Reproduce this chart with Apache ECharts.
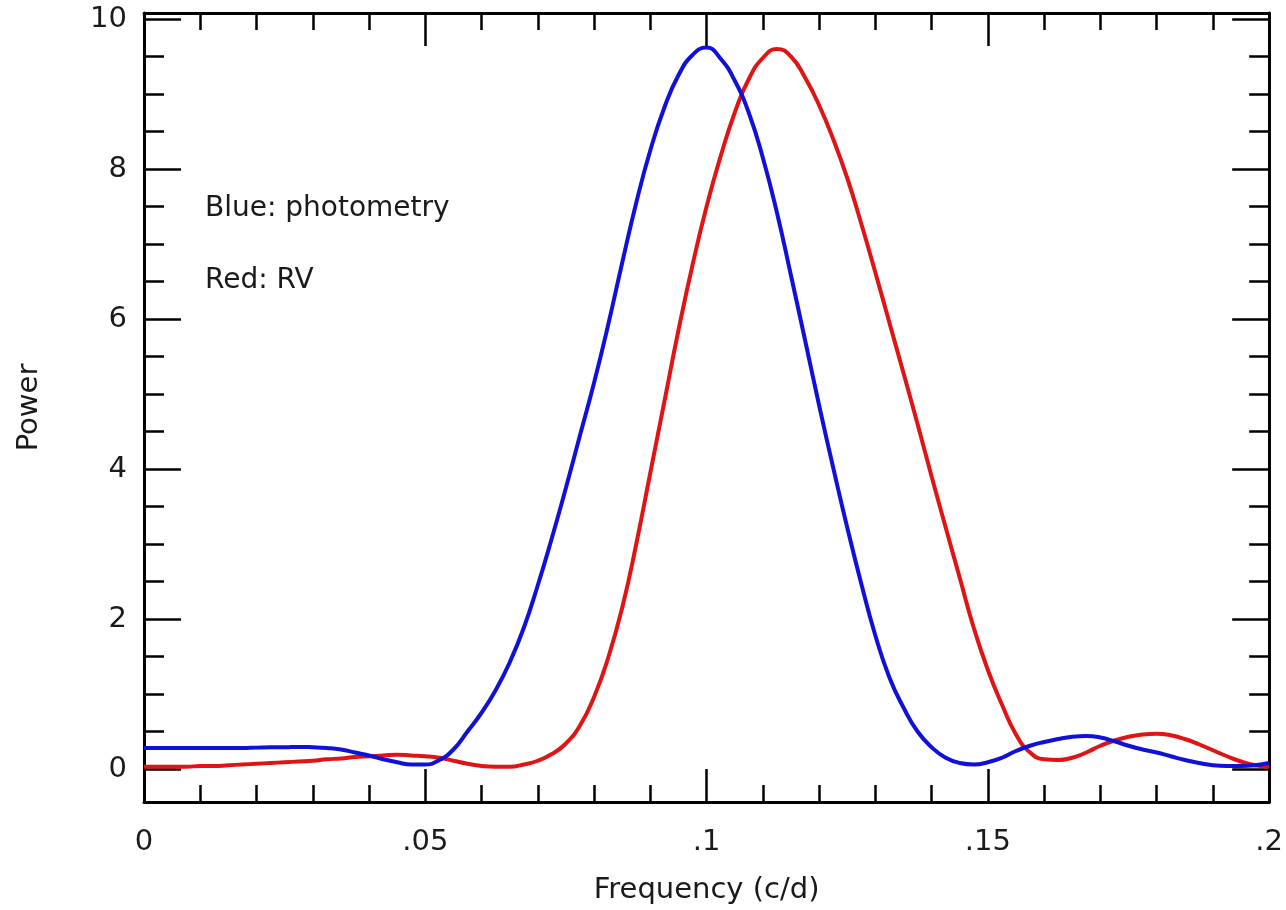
<!DOCTYPE html>
<html>
<head>
<meta charset="utf-8">
<script src="https://cdn.jsdelivr.net/npm/echarts@6/dist/echarts.min.js"></script>
<style>
html,body{margin:0;padding:0;background:#fff;}
#chart{width:1286px;height:910px;}
</style>
</head>
<body>
<div id="chart"></div>
<script>
// Frequency grid (c/d)
const freq = [
  0, 0.0025, 0.005, 0.0075, 0.01, 0.0125, 0.015, 0.0175, 0.02, 0.0225,
  0.025, 0.0275, 0.03, 0.0325, 0.035, 0.0375, 0.04, 0.0425, 0.045, 0.0475,
  0.05, 0.0525, 0.055, 0.0575, 0.06, 0.0625, 0.065, 0.0675, 0.07, 0.0725,
  0.075, 0.0775, 0.08, 0.0825, 0.085, 0.0875, 0.09, 0.0925, 0.095, 0.0975,
  0.1, 0.1025, 0.105, 0.1075, 0.11, 0.1125, 0.115, 0.1175, 0.12, 0.1225,
  0.125, 0.1275, 0.13, 0.1325, 0.135, 0.1375, 0.14, 0.1425, 0.145, 0.1475,
  0.15, 0.1525, 0.155, 0.1575, 0.16, 0.1625, 0.165, 0.1675, 0.17, 0.1725,
  0.175, 0.1775, 0.18, 0.1825, 0.185, 0.1875, 0.19, 0.1925, 0.195, 0.1975, 0.2
];
// Blue: photometry
const powerPhotometry = [
  0.28, 0.28, 0.28, 0.28, 0.28, 0.28, 0.28, 0.28, 0.285, 0.29,
  0.29, 0.295, 0.29, 0.28, 0.26, 0.22, 0.18, 0.13, 0.09, 0.06,
  0.06, 0.12, 0.26, 0.5, 0.75, 1.05, 1.42, 1.88, 2.45, 3.08,
  3.75, 4.45, 5.15, 5.92, 6.75, 7.55, 8.25, 8.82, 9.25, 9.52,
  9.62, 9.47, 9.18, 8.75, 8.15, 7.42, 6.58, 5.72, 4.85, 4.02,
  3.22, 2.47, 1.78, 1.22, 0.82, 0.5, 0.29, 0.15, 0.08, 0.06,
  0.09, 0.15, 0.24, 0.31, 0.36, 0.4, 0.43, 0.44, 0.42, 0.37,
  0.31, 0.26, 0.22, 0.17, 0.12, 0.08, 0.05, 0.04, 0.04, 0.05, 0.08
];
// Red: RV
const powerRV = [
  0.03, 0.03, 0.03, 0.03, 0.04, 0.04, 0.05, 0.06, 0.07, 0.08,
  0.09, 0.1, 0.11, 0.13, 0.14, 0.16, 0.17, 0.18, 0.19, 0.18,
  0.17, 0.15, 0.11, 0.07, 0.04, 0.03, 0.03, 0.06, 0.11, 0.2,
  0.34, 0.58, 0.96, 1.48, 2.15, 3.0, 3.95, 4.9, 5.85, 6.72,
  7.5, 8.17, 8.75, 9.2, 9.48, 9.6, 9.5, 9.22, 8.85, 8.4,
  7.88, 7.27, 6.62, 5.95, 5.28, 4.6, 3.9, 3.22, 2.55, 1.88,
  1.32, 0.86, 0.46, 0.22, 0.13, 0.12, 0.15, 0.22, 0.31, 0.38,
  0.43, 0.46, 0.47, 0.45, 0.4, 0.33, 0.25, 0.17, 0.1, 0.05, 0.03
];
// Axis ticks
const yMajorTicks = [0, 2, 4, 6, 8, 10];
const yMinorTicks = [0.5, 1, 1.5, 2.5, 3, 3.5, 4.5, 5, 5.5, 6.5, 7, 7.5, 8.5, 9, 9.5];
const xLabels = {0: '0', 0.05: '.05', 0.1: '.1', 0.15: '.15', 0.2: '.2'};

const FONT = '"DejaVu Sans", Verdana, sans-serif';
const FS = 29;
const NOTE_FS = 28;
const TXT = '#1a1a1a';
const lineStyle = {color: '#000', width: 3};
const tickStyle = {color: '#000', width: 2.5};

function pairs(ys) { return freq.map((f, i) => [f, ys[i]]); }

function yAx(pos, major, withLabel) {
  const ticks = major ? yMajorTicks : yMinorTicks;
  const ax = {
    type: 'value', position: pos, min: -0.44, max: 10.08,
    axisLine: {show: major, onZero: false, lineStyle: lineStyle},
    axisTick: {show: true, inside: true, length: major ? 37 : 20, lineStyle: tickStyle, customValues: ticks},
    axisLabel: withLabel
      ? {show: true, margin: 17, fontSize: FS, fontFamily: FONT, color: TXT, customValues: yMajorTicks}
      : {show: false},
    splitLine: {show: false}
  };
  if (withLabel) {
    ax.name = 'Power';
    ax.nameLocation = 'middle';
    ax.nameGap = 100;
    ax.nameRotate = 90;
    ax.nameTextStyle = {fontSize: FS, fontFamily: FONT, color: TXT};
  }
  return ax;
}

const chart = echarts.init(document.getElementById('chart'), null, {renderer: 'canvas'});
chart.setOption({
  backgroundColor: '#fff',
  animation: false,
  grid: {left: 144, right: 16, top: 13, bottom: 103, containLabel: false},
  graphic: [
    {type: 'text', left: 205, top: 195, style: {text: 'Blue: photometry', font: NOTE_FS + 'px ' + FONT, fill: TXT}},
    {type: 'text', left: 205, top: 267, style: {text: 'Red: RV', font: NOTE_FS + 'px ' + FONT, fill: TXT}}
  ],
  xAxis: [
    {
      type: 'value', position: 'bottom', min: 0, max: 0.2, interval: 0.05,
      name: 'Frequency (c/d)', nameLocation: 'middle', nameGap: 74,
      nameTextStyle: {fontSize: FS, fontFamily: FONT, color: TXT},
      axisLine: {show: true, onZero: false, lineStyle: lineStyle},
      axisTick: {show: true, inside: true, length: 33, lineStyle: tickStyle},
      minorTick: {show: true, splitNumber: 5, length: 17, lineStyle: tickStyle},
      axisLabel: {
        margin: 26, fontSize: FS, fontFamily: FONT, color: TXT,
        formatter: v => { const k = parseFloat(v.toFixed(3)); return xLabels[k] !== undefined ? xLabels[k] : ''; }
      },
      splitLine: {show: false}
    },
    {
      type: 'value', position: 'top', min: 0, max: 0.2, interval: 0.05,
      axisLine: {show: true, onZero: false, lineStyle: lineStyle},
      axisTick: {show: true, inside: true, length: 33, lineStyle: tickStyle},
      minorTick: {show: true, splitNumber: 5, length: 17, lineStyle: tickStyle},
      axisLabel: {show: false},
      splitLine: {show: false}
    }
  ],
  yAxis: [
    yAx('left', true, true),
    yAx('left', false, false),
    yAx('right', true, false),
    yAx('right', false, false)
  ],
  series: [
    {
      name: 'RV', type: 'line', xAxisIndex: 0, yAxisIndex: 0,
      data: pairs(powerRV), smooth: true, showSymbol: false,
      lineStyle: {color: '#e01414', width: 4}, z: 3
    },
    {
      name: 'photometry', type: 'line', xAxisIndex: 0, yAxisIndex: 0,
      data: pairs(powerPhotometry), smooth: true, showSymbol: false,
      lineStyle: {color: '#1010d8', width: 4}, z: 4
    }
  ]
});
</script>
</body>
</html>
